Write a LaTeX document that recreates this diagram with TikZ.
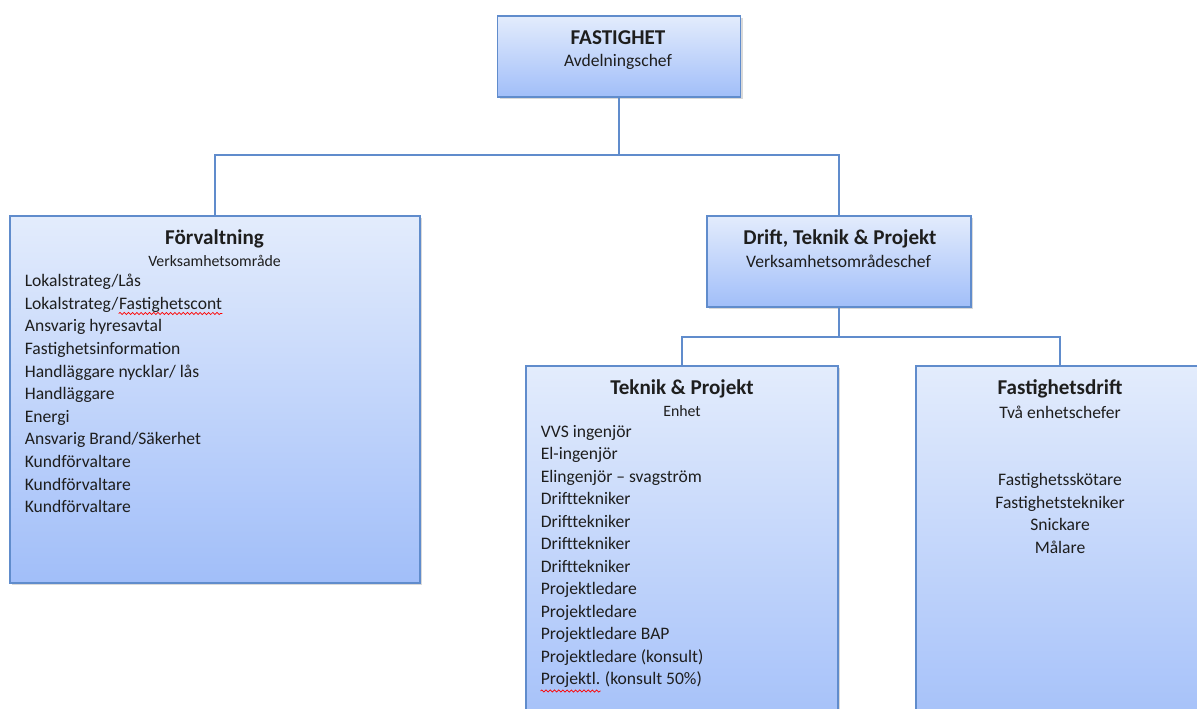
\documentclass[tikz,border=0pt]{standalone}
\usepackage{fontspec}
\setmainfont{Carlito}
\usepackage{tikz}
\usetikzlibrary{shadows,decorations.pathmorphing}
\definecolor{boxtop}{RGB}{227,236,252}
\definecolor{boxbot}{RGB}{161,190,249}
\definecolor{boxline}{RGB}{96,140,204}
\definecolor{ink}{RGB}{30,30,30}
\tikzstyle{none}=[inner sep=0pt]
\tikzstyle{box}=[inner sep=0pt,draw=boxline,line width=0.7,top color=boxtop,bottom color=boxbot,drop shadow={shadow xshift=0.04cm,shadow yshift=-0.04cm,opacity=0.3}]
\tikzstyle{simple}=[-,draw=boxline,line width=0.7]
\tikzstyle{head}=[inner sep=0pt,anchor=base,text=ink,font=\fontsize{12}{14}\selectfont\bfseries]
\tikzstyle{sub}=[inner sep=0pt,anchor=base,text=ink,font=\fontsize{10}{12}\selectfont]
\tikzstyle{small}=[inner sep=0pt,anchor=base,text=ink,font=\fontsize{9}{11}\selectfont]
\tikzstyle{item}=[inner sep=0pt,anchor=base west,text=ink,font=\fontsize{10}{12}\selectfont]
\tikzstyle{wavy}=[draw=red,line width=0.4,decorate,decoration={snake,amplitude=0.6pt,segment length=2.4pt}]

\begin{document}
\begin{tikzpicture}
  \clip (0, 0) rectangle (23.94, 14.18);
  \node [style=box, minimum width=4.86cm, minimum height=1.62cm] (0) at (12.38, 13.05) {};
  \node [style=box, minimum width=8.2cm, minimum height=7.34cm] (1) at (4.3, 6.19) {};
  \node [style=box, minimum width=5.28cm, minimum height=1.82cm] (2) at (16.78, 8.95) {};
  \node [style=box, minimum width=6.24cm, minimum height=7.6cm] (3) at (13.64, 3.06) {};
  \node [style=box, minimum width=5.76cm, minimum height=7.6cm] (4) at (21.2, 3.06) {};
  \node [style=none] (5) at (12.38, 11.08) {};
  \node [style=none] (6) at (16.78, 7.44) {};
  \node [style=head] (7) at (12.36, 13.29) {FASTIGHET};
  \node [style=sub] (8) at (12.36, 12.85) {Avdelningschef};
  \node [style=head] (9) at (4.29, 9.28) {Förvaltning};
  \node [style=small] (10) at (4.29, 8.85) {Verksamhetsområde};
  \node [style=item] (11) at (0.49, 8.44) {Lokalstrateg/Lås};
  \node [style=item] (12) at (0.49, 7.99) {Lokalstrateg/};
  \node [style=item] (13) at (12.base east) {Fastighetscont};
  \node [style=item] (14) at (0.49, 7.54) {Ansvarig hyresavtal};
  \node [style=item] (15) at (0.49, 7.08) {Fastighetsinformation};
  \node [style=item] (16) at (0.49, 6.63) {Handläggare nycklar/ lås};
  \node [style=item] (17) at (0.49, 6.18) {Handläggare};
  \node [style=item] (18) at (0.49, 5.73) {Energi};
  \node [style=item] (19) at (0.49, 5.28) {Ansvarig Brand/Säkerhet};
  \node [style=item] (20) at (0.49, 4.82) {Kundförvaltare};
  \node [style=item] (21) at (0.49, 4.37) {Kundförvaltare};
  \node [style=item] (22) at (0.49, 3.92) {Kundförvaltare};
  \node [style=head] (23) at (16.8, 9.29) {Drift, Teknik \& Projekt};
  \node [style=sub] (24) at (16.77, 8.83) {Verksamhetsområdeschef};
  \node [style=head] (25) at (13.64, 6.29) {Teknik \& Projekt};
  \node [style=small] (26) at (13.64, 5.85) {Enhet};
  \node [style=item] (27) at (10.81, 5.43) {VVS ingenjör};
  \node [style=item] (28) at (10.81, 4.98) {El-ingenjör};
  \node [style=item] (29) at (10.81, 4.53) {Elingenjör – svagström};
  \node [style=item] (30) at (10.81, 4.08) {Drifttekniker};
  \node [style=item] (31) at (10.81, 3.63) {Drifttekniker};
  \node [style=item] (32) at (10.81, 3.18) {Drifttekniker};
  \node [style=item] (33) at (10.81, 2.73) {Drifttekniker};
  \node [style=item] (34) at (10.81, 2.28) {Projektledare};
  \node [style=item] (35) at (10.81, 1.83) {Projektledare};
  \node [style=item] (36) at (10.81, 1.38) {Projektledare BAP};
  \node [style=item] (37) at (10.81, 0.93) {Projektledare (konsult)};
  \node [style=item] (38) at (10.81, 0.48) {Projektl.};
  \node [style=item] (39) at (38.base east) {\ (konsult 50\%)};
  \node [style=head] (40) at (21.2, 6.29) {Fastighetsdrift};
  \node [style=sub] (41) at (21.2, 5.81) {Två enhetschefer};
  \node [style=sub] (42) at (21.2, 4.46) {Fastighetsskötare};
  \node [style=sub] (43) at (21.2, 4.01) {Fastighetstekniker};
  \node [style=sub] (44) at (21.2, 3.57) {Snickare};
  \node [style=sub] (45) at (21.2, 3.11) {Målare};
  \draw [style=simple] (0.south) to (5.center);
  \draw [style=simple] (5.center) -| (1.north);
  \draw [style=simple] (5.center) -| (2.north);
  \draw [style=simple] (2.south) to (6.center);
  \draw [style=simple] (6.center) -| (3.north);
  \draw [style=simple] (6.center) -| (4.north);
  \draw [style=wavy] ([yshift=-0.08cm]13.base west) to ([yshift=-0.08cm]13.base east);
  \draw [style=wavy] ([yshift=-0.12cm]38.base west) to ([yshift=-0.12cm]38.base east);
\end{tikzpicture}
\end{document}
